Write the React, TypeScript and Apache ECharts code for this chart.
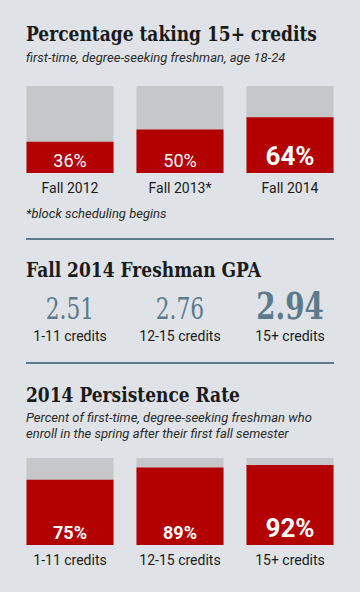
import React, { useEffect, useRef } from "react";
import * as echarts from "echarts";

// ---- data ----
const titleMain = "Percentage taking 15+ credits";
const subtitleMain = "first-time, degree-seeking freshman, age 18-24";
const terms = ["Fall 2012", "Fall 2013*", "Fall 2014"];
const pct15 = [36, 50, 64];
const footnote = "*block scheduling begins";

const gpaTitle = "Fall 2014 Freshman GPA";
const creditGroups = ["1-11 credits", "12-15 credits", "15+ credits"];
const gpaValues = [2.51, 2.76, 2.94];

const persistTitle = "2014 Persistence Rate";
const persistSub = [
  "Percent of first-time, degree-seeking freshman who",
  "enroll in the spring after their first fall semester",
];
const persistence = [75, 89, 92];

// ---- style ----
const BG = "#dfe3e7";
const RED = "#b30000";
const GRAY = "#c6c7c9";
const SLATE = "#5d7a8b";
const INK = "#1b1b1b";

export default function App() {
  const ref = useRef<HTMLDivElement>(null);

  useEffect(() => {
    document.body.style.margin = "0";
    const chart = echarts.init(ref.current!, null, { renderer: "svg" });

    const ctx = document.createElement("canvas").getContext("2d")!;
    ctx.font = "bold 20px 'DejaVu Serif'";
    const tw = ctx.measureText(titleMain).width || 350;
    const titleScale = 291 / tw;

    const titleText = (text: string, y: number) => ({
      type: "text",
      x: 26,
      y,
      scaleX: titleScale,
      style: {
        text,
        fontFamily: "'DejaVu Serif'",
        fontWeight: "bold",
        fontSize: 20,
        fill: INK,
        verticalAlign: "middle",
      },
    });
    const italicText = (text: string, y: number) => ({
      type: "text",
      x: 26,
      y,
      style: {
        text,
        fontFamily: "Roboto",
        fontStyle: "italic",
        fontSize: 13,
        fill: "#2a2a2a",
        verticalAlign: "middle",
      },
    });
    const divider = (y: number) => ({
      type: "line",
      shape: { x1: 26, y1: y, x2: 334, y2: y },
      style: { stroke: SLATE, lineWidth: 2 },
    });

    const barData = (vals: number[], boldAll: boolean) =>
      vals.map((v, i) => {
        const big = i === vals.length - 1;
        return {
          value: v,
          label: {
            fontSize: big ? 26 : 18,
            fontWeight: big || boldAll ? "bold" : "normal",
          },
        };
      });

    const catAxis = (gridIndex: number, data: string[], margin: number) => ({
      type: "category",
      gridIndex,
      data,
      axisLine: { show: false },
      axisTick: { show: false },
      axisLabel: {
        margin,
        fontFamily: "Roboto",
        fontWeight: "normal",
        fontSize: 14,
        color: INK,
        interval: 0,
      },
    });
    const valAxis = (gridIndex: number, min: number, max: number) => ({
      type: "value",
      gridIndex,
      min,
      max,
      show: false,
    });

    const barSeries = (idx: number, vals: number[], boldAll: boolean) => ({
      type: "bar",
      xAxisIndex: idx,
      yAxisIndex: idx,
      barWidth: 87,
      data: barData(vals, boldAll),
      showBackground: true,
      backgroundStyle: { color: GRAY },
      itemStyle: { color: RED },
      label: {
        show: true,
        position: "insideBottom",
        distance: 4,
        color: "#ffffff",
        fontFamily: "Roboto",
        formatter: "{c}%",
      },
    });

    chart.setOption({
      animation: false,
      backgroundColor: BG,
      grid: [
        { left: 15, right: 15, top: 86, height: 87 },
        { left: 15, right: 15, top: 290, height: 36 },
        { left: 15, right: 15, top: 458, height: 87 },
      ],
      xAxis: [
        catAxis(0, terms, 8),
        catAxis(1, creditGroups, 3),
        catAxis(2, creditGroups, 8),
      ],
      yAxis: [valAxis(0, 0, 100), valAxis(1, -1, 1), valAxis(2, 0, 100)],
      series: [
        barSeries(0, pct15, false),
        {
          type: "custom",
          xAxisIndex: 1,
          yAxisIndex: 1,
          data: gpaValues.map((g, i) => [i, 0, g]),
          renderItem: (params: any, api: any) => {
            const i = params.dataIndex;
            const pt = api.coord([api.value(0), api.value(1)]);
            const big = i === gpaValues.length - 1;
            return {
              type: "text",
              x: pt[0],
              y: pt[1] + (big ? -2 : 1),
              scaleX: 0.75,
              style: {
                text: gpaValues[i].toFixed(2),
                fontFamily: "'DejaVu Serif'",
                fontWeight: big ? "bold" : "normal",
                fontSize: big ? 37 : 29,
                fill: SLATE,
                align: "center",
                verticalAlign: "middle",
              },
            };
          },
        },
        barSeries(2, persistence, true),
      ],
      graphic: [
        titleText(titleMain, 34.5),
        italicText(subtitleMain, 57),
        italicText(footnote, 213),
        divider(239),
        titleText(gpaTitle, 270),
        divider(363),
        titleText(persistTitle, 395),
        italicText(persistSub[0], 417),
        italicText(persistSub[1], 433.5),
      ],
    });

    return () => chart.dispose();
  }, []);

  return <div ref={ref} style={{ width: 360, height: 592, background: BG }} />;
}
